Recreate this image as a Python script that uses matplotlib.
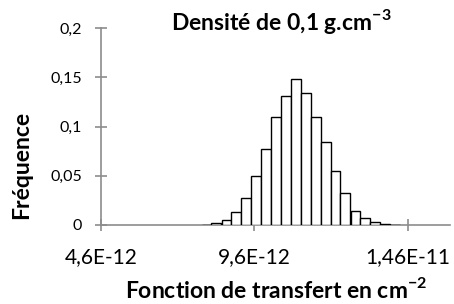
import matplotlib.pyplot as plt
from matplotlib.ticker import FixedLocator

# centres des classes (cm-2) et fréquences
centres = [8.04e-12, 8.36e-12, 8.69e-12, 9.01e-12, 9.33e-12, 9.65e-12, 9.98e-12,
           10.30e-12, 10.62e-12, 10.95e-12, 11.27e-12, 11.59e-12, 11.92e-12,
           12.24e-12, 12.56e-12, 12.89e-12, 13.21e-12, 13.53e-12, 13.86e-12,
           14.18e-12]
frequences = [0.0005, 0.0017, 0.005, 0.0132, 0.0278, 0.0497, 0.0768, 0.110,
              0.131, 0.148, 0.134, 0.110, 0.084, 0.055, 0.032, 0.0142, 0.0068,
              0.003, 0.0007, 0.0002]
largeur = 0.323e-12

xticks = [4.6e-12, 9.6e-12, 1.46e-11]
xtick_labels = ["4,6E-12", "9,6E-12", "1,46E-11"]
yticks = [0, 0.05, 0.1, 0.15, 0.2]
ytick_labels = ["0", "0,05", "0,1", "0,15", "0,2"]

plt.rcParams["font.family"] = ["Lato", "DejaVu Sans"]
plt.rcParams["mathtext.fontset"] = "custom"
plt.rcParams["mathtext.rm"] = "Lato"
plt.rcParams["mathtext.bf"] = "Lato:bold"

fig = plt.figure(figsize=(4.54, 3.04), dpi=100)
ax = fig.add_axes([101 / 454, 1 - 225 / 304, 349 / 454, 197 / 304])

ax.bar(centres, frequences, width=largeur, color="white",
       edgecolor="black", linewidth=1.0, zorder=3)

ax.set_xlim(4.6e-12, 1.597e-11)
ax.set_ylim(0, 0.2)
ax.xaxis.set_major_locator(FixedLocator(xticks))
ax.set_xticklabels(xtick_labels, fontsize=15)
ax.yaxis.set_major_locator(FixedLocator(yticks))
ax.set_yticklabels(ytick_labels, fontsize=11.5)

for s in ["top", "right"]:
    ax.spines[s].set_visible(False)
for s in ["left", "bottom"]:
    ax.spines[s].set_color("#8c8c8c")
    ax.spines[s].set_linewidth(1.2)
ax.tick_params(direction="inout", length=8, width=1.2, color="#8c8c8c",
               labelcolor="black")
ax.tick_params(axis="y", pad=9.5)
ax.tick_params(axis="x", pad=12)

fig.text(281 / 454, 1 - 22 / 304, r"Densité de 0,1 g.cm$^{\mathbf{-3}}$",
         ha="center", va="center", fontsize=16.5, fontweight="bold")
fig.text(276 / 454, 1 - 290 / 304, r"Fonction de transfert en cm$^{\mathbf{-2}}$",
         ha="center", va="center", fontsize=16.5, fontweight="bold")
fig.text(22 / 454, 1 - 165 / 304, "Fréquence", rotation=90,
         ha="center", va="center", fontsize=16.5, fontweight="bold")

fig.savefig("out.png", dpi=100)
